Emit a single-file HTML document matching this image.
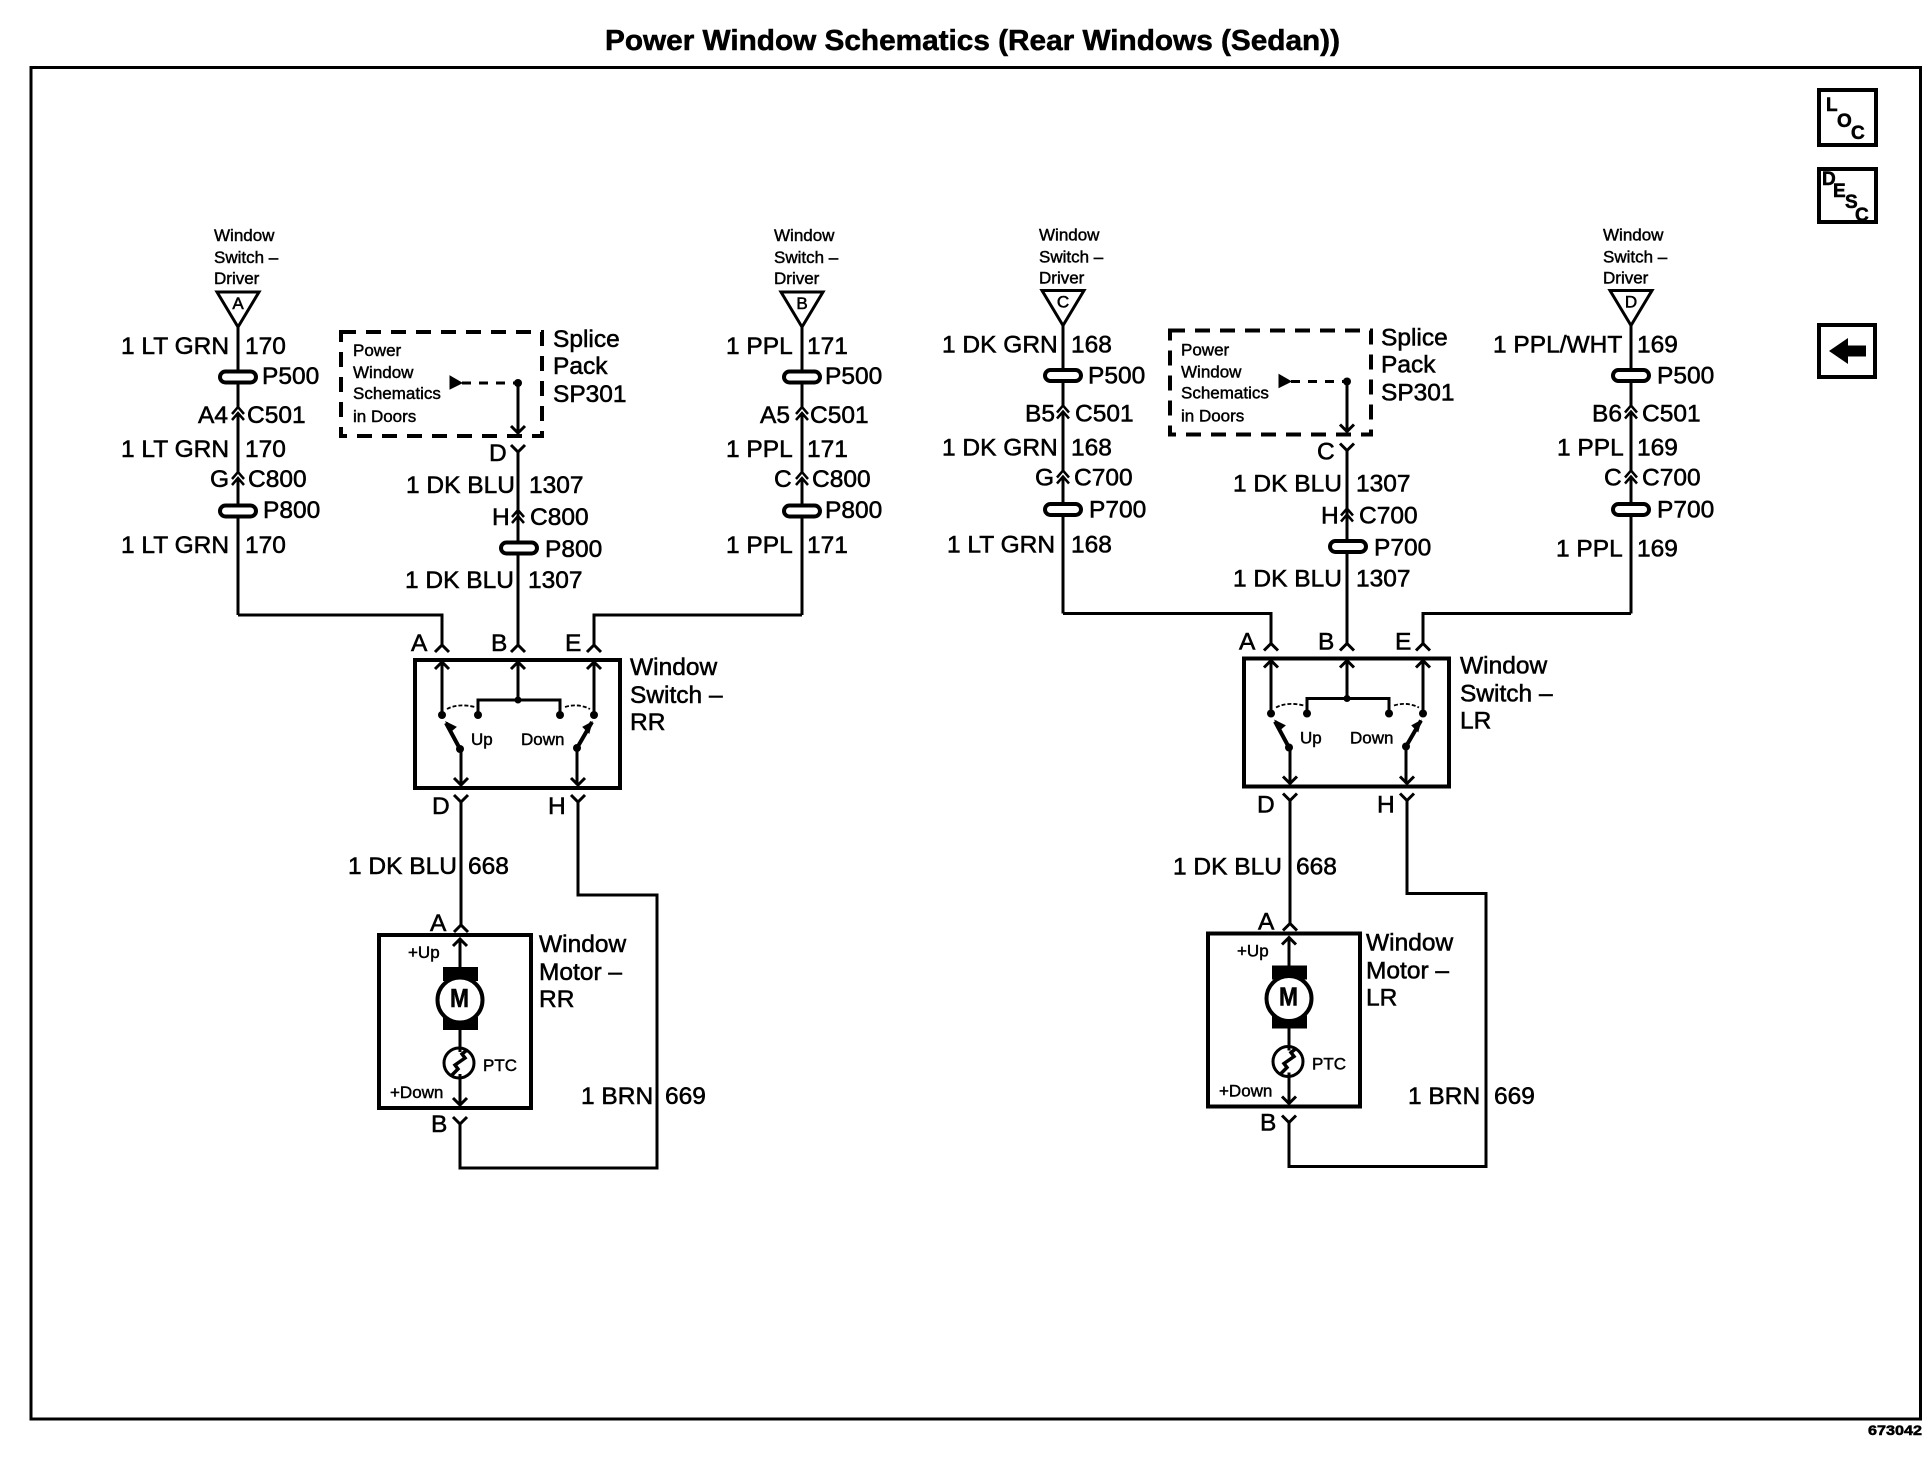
<!DOCTYPE html>
<html><head><meta charset="utf-8"><style>
html,body{margin:0;padding:0;background:#fff}
svg{display:block}
text{font-family:"Liberation Sans",Arial,sans-serif;fill:#000;stroke:#000;stroke-width:.55px}
.l{font-size:24.5px}
.t{font-size:17px;stroke-width:.45px}
</style></head><body>
<svg width="1932" height="1472" viewBox="0 0 1932 1472" xmlns="http://www.w3.org/2000/svg">
<defs>
<g id="p"><rect x="-18" y="-5.500" width="36" height="11" rx="5.500" fill="#fff" stroke="#000" stroke-width="4"/></g>
<path id="dc" d="M-6,7L0,0L6,7M-6,13L0,6L6,13" fill="none" stroke="#000" stroke-width="2.500"/>
<path id="up" d="M-7,7L0,0L7,7" fill="none" stroke="#000" stroke-width="3"/>
<path id="dn" d="M-7,-7L0,0L7,-7" fill="none" stroke="#000" stroke-width="3"/>
<path id="y" d="M-7,0L0,7L7,0" fill="none" stroke="#000" stroke-width="3"/>

<g id="sw">
 <g fill="none" stroke="#000" stroke-width="3">
  <path d="M518,452V645"/>
  <path d="M442,662V715M518,662V700M478,715V700H560V715M594,662V715"/>
  <path d="M461,749V785M577,748V785"/>
  <path d="M461,802V925M578,802V895H657V1168H460V1124"/>
  <path d="M460,939V967M460,1030V1047M460,1079V1105"/>
 </g>
 <path d="M446,723L460,749M592,722L577,748" fill="none" stroke="#000" stroke-width="4"/>
 <rect x="415" y="660" width="205" height="128" fill="none" stroke="#000" stroke-width="4"/>
 <rect x="379" y="935" width="152" height="173" fill="none" stroke="#000" stroke-width="4"/>
 <use href="#up" x="442" y="645"/><use href="#up" x="518" y="645"/><use href="#up" x="594" y="645"/>
 <use href="#up" x="442" y="662"/><use href="#up" x="518" y="662"/><use href="#up" x="594" y="662"/>
 <use href="#dn" x="461" y="785"/><use href="#dn" x="578" y="785"/>
 <use href="#y" x="461" y="795"/><use href="#y" x="578" y="795"/>
 <use href="#up" x="461" y="925"/><use href="#up" x="460" y="939"/>
 <use href="#dn" x="460" y="1105"/><use href="#y" x="460" y="1117"/>
 <g fill="#000"><circle cx="442" cy="715" r="4"/><circle cx="478" cy="715" r="4"/><circle cx="560" cy="715" r="4"/><circle cx="594" cy="715" r="4"/><circle cx="518" cy="700" r="3.500"/><circle cx="460" cy="749" r="4"/><circle cx="577" cy="748" r="4"/></g>
 <path d="M446,722L450,732L456,727Z M592,722L583,727L589,733Z" fill="#000" stroke="#000"/>
 <path d="M447,709Q458,703 475,707M565,707Q578,703 590,709" fill="none" stroke="#000" stroke-width="1.800" stroke-dasharray="4 2"/>
 <rect x="443" y="967" width="35" height="14" fill="#000"/><rect x="443" y="1017" width="35" height="13" fill="#000"/>
 <circle cx="460" cy="1000" r="22.500" fill="#fff" stroke="#000" stroke-width="4"/>
 <circle cx="459" cy="1063" r="15" fill="#fff" stroke="#000" stroke-width="3"/>
 <path d="M451,1076L458,1069L455,1065L465,1058L462,1054L467,1050" fill="none" stroke="#000" stroke-width="3.500"/>
 <path d="M460,1047V1052M460,1074V1079" stroke="#000" stroke-width="3"/>
 <rect x="341" y="332" width="201" height="104" fill="none" stroke="#000" stroke-width="4" stroke-dasharray="15 10"/>
 <path d="M450,376L462,383L450,389Z" fill="#000" stroke="#000"/>
 <path d="M462,383H518" stroke="#000" stroke-width="3" stroke-dasharray="9 8" fill="none"/>
 <circle cx="518" cy="383" r="4" fill="#000"/>
 <path d="M518,383V433" stroke="#000" stroke-width="3"/>
 <use href="#dn" x="518" y="433"/><use href="#y" x="518" y="445"/>
 <path d="M518,452V510M518,517V543" stroke="#000" stroke-width="3"/>
 <use href="#dc" x="518" y="510"/><use href="#p" x="519" y="548"/>
</g>
<g id="drop">
 <path d="M217,292H259L238,327Z" fill="#fff" stroke="#000" stroke-width="3"/>
 <path d="M238,327V407M238,413V472M238,478V615" fill="none" stroke="#000" stroke-width="3"/>
 <use href="#p" x="238" y="377"/><use href="#p" x="238" y="511"/>
 <use href="#dc" x="238" y="407"/><use href="#dc" x="238" y="472"/>
</g>
</defs>

<!-- frame -->
<rect x="31" y="67.500" width="1889.500" height="1351.500" fill="none" stroke="#000" stroke-width="3"/>
<text x="605" y="50" font-size="29" font-weight="700" textLength="735" lengthAdjust="spacingAndGlyphs">Power Window Schematics (Rear Windows (Sedan))</text>
<text x="1868" y="1435" font-size="14" font-weight="700" textLength="54" lengthAdjust="spacingAndGlyphs">673042</text>

<!-- side icons -->
<g fill="none" stroke="#000" stroke-width="4"><rect x="1819" y="90" width="57" height="55"/><rect x="1819" y="169" width="57" height="53"/><rect x="1819" y="325" width="56" height="52"/></g>
<g font-size="19" font-weight="700">
<text x="1826" y="111">L</text><text x="1837" y="127">O</text><text x="1851" y="139">C</text>
<text x="1822" y="185">D</text><text x="1833" y="197">E</text><text x="1845" y="208">S</text><text x="1855" y="221">C</text>
</g>
<path d="M1829,351L1848,338V345.500H1866V356.500H1848V364Z" fill="#000"/>

<!-- LEFT DIAGRAM -->
<use href="#sw"/>
<use href="#drop"/>
<use href="#drop" transform="translate(564,0)"/>
<path d="M238,615H442V645M802,615H594V645" fill="none" stroke="#000" stroke-width="3"/>

<!-- RIGHT DIAGRAM -->
<use href="#sw" transform="translate(829,-1.500)"/>
<use href="#drop" transform="translate(825,-1.500)"/>
<use href="#drop" transform="translate(1393,-1.500)"/>
<path d="M1063,613.500H1271V643.500M1631,613.500H1423V643.500" fill="none" stroke="#000" stroke-width="3"/>

<!-- left small labels -->
<g font-size="17" text-anchor="middle"><text x="238" y="309">A</text><text x="802" y="309">B</text></g>
<text class="t" x="214" y="241">Window</text><text class="t" x="214" y="263">Switch –</text><text class="t" x="214" y="284">Driver</text>
<text class="t" x="774" y="241">Window</text><text class="t" x="774" y="263">Switch –</text><text class="t" x="774" y="284">Driver</text>
<text class="t" x="353" y="356">Power</text><text class="t" x="353" y="378">Window</text><text class="t" x="353" y="399">Schematics</text><text class="t" x="353" y="422">in Doors</text>
<text class="t" x="471" y="745">Up</text><text class="t" x="521" y="745">Down</text>
<text class="t" x="408" y="958">+Up</text><text class="t" x="390" y="1098">+Down</text><text class="t" x="483" y="1071">PTC</text>

<!-- col 1 -->
<text class="l" x="121" y="354">1 LT GRN</text><text class="l" x="245" y="354">170</text>
<text class="l" x="262" y="384">P500</text>
<text class="l" x="198" y="423">A4</text><text class="l" x="247" y="423">C501</text>
<text class="l" x="121" y="457">1 LT GRN</text><text class="l" x="245" y="457">170</text>
<text class="l" x="210" y="487">G</text><text class="l" x="248" y="487">C800</text>
<text class="l" x="263" y="518">P800</text>
<text class="l" x="121" y="553">1 LT GRN</text><text class="l" x="245" y="553">170</text>
<!-- splice -->
<text class="l" x="553" y="347">Splice</text><text class="l" x="553" y="374">Pack</text><text class="l" x="553" y="402">SP301</text>
<text class="l" x="489" y="461">D</text>
<text class="l" x="406" y="493">1 DK BLU</text><text class="l" x="529" y="493">1307</text>
<text class="l" x="492" y="525">H</text><text class="l" x="530" y="525">C800</text>
<text class="l" x="545" y="557">P800</text>
<text class="l" x="405" y="588">1 DK BLU</text><text class="l" x="528" y="588">1307</text>
<!-- col 2 -->
<text class="l" x="726" y="354">1 PPL</text><text class="l" x="807" y="354">171</text>
<text class="l" x="825" y="384">P500</text>
<text class="l" x="760" y="423">A5</text><text class="l" x="810" y="423">C501</text>
<text class="l" x="726" y="457">1 PPL</text><text class="l" x="807" y="457">171</text>
<text class="l" x="774" y="487">C</text><text class="l" x="812" y="487">C800</text>
<text class="l" x="825" y="518">P800</text>
<text class="l" x="726" y="553">1 PPL</text><text class="l" x="807" y="553">171</text>
<!-- switch labels -->
<text class="l" x="411" y="651">A</text><text class="l" x="491" y="651">B</text><text class="l" x="565" y="651">E</text>
<text class="l" x="630" y="675">Window</text><text class="l" x="630" y="703">Switch –</text><text class="l" x="630" y="730">RR</text>
<text class="l" x="432" y="814">D</text><text class="l" x="548" y="814">H</text>
<text class="l" x="348" y="874">1 DK BLU</text><text class="l" x="468" y="874">668</text>
<text class="l" x="430" y="931">A</text>
<text class="l" x="539" y="952">Window</text><text class="l" x="539" y="980">Motor –</text><text class="l" x="539" y="1007">RR</text>
<text x="450" y="1007" font-size="26" font-weight="700" textLength="19" lengthAdjust="spacingAndGlyphs">M</text>
<text class="l" x="431" y="1132">B</text>
<text class="l" x="581" y="1104">1 BRN</text><text class="l" x="665" y="1104">669</text>

<!-- right-hand text -->
<g transform="translate(0,1.500)">
<g font-size="17" text-anchor="middle"><text x="1063" y="306">C</text><text x="1631" y="306">D</text></g>
<text class="t" x="1039" y="239">Window</text><text class="t" x="1039" y="261">Switch –</text><text class="t" x="1039" y="282">Driver</text>
<text class="t" x="1603" y="239">Window</text><text class="t" x="1603" y="261">Switch –</text><text class="t" x="1603" y="282">Driver</text>
<text class="t" x="1181" y="354">Power</text><text class="t" x="1181" y="376">Window</text><text class="t" x="1181" y="397">Schematics</text><text class="t" x="1181" y="420">in Doors</text>
<text class="t" x="1300" y="742">Up</text><text class="t" x="1350" y="742">Down</text>
<text class="t" x="1237" y="955">+Up</text><text class="t" x="1219" y="1095">+Down</text><text class="t" x="1312" y="1068">PTC</text>
<!-- col 3 -->
<text class="l" x="942" y="351">1 DK GRN</text><text class="l" x="1071" y="351">168</text>
<text class="l" x="1088" y="382">P500</text>
<text class="l" x="1025" y="420">B5</text><text class="l" x="1075" y="420">C501</text>
<text class="l" x="942" y="454">1 DK GRN</text><text class="l" x="1071" y="454">168</text>
<text class="l" x="1035" y="484">G</text><text class="l" x="1074" y="484">C700</text>
<text class="l" x="1089" y="516">P700</text>
<text class="l" x="947" y="551">1 LT GRN</text><text class="l" x="1071" y="551">168</text>
<!-- splice 2 -->
<text class="l" x="1381" y="344">Splice</text><text class="l" x="1381" y="371">Pack</text><text class="l" x="1381" y="399">SP301</text>
<text class="l" x="1317" y="458">C</text>
<text class="l" x="1233" y="490">1 DK BLU</text><text class="l" x="1356" y="490">1307</text>
<text class="l" x="1321" y="522">H</text><text class="l" x="1359" y="522">C700</text>
<text class="l" x="1374" y="554">P700</text>
<text class="l" x="1233" y="585">1 DK BLU</text><text class="l" x="1356" y="585">1307</text>
<!-- col 4 -->
<text class="l" x="1493" y="351">1 PPL/WHT</text><text class="l" x="1637" y="351">169</text>
<text class="l" x="1657" y="382">P500</text>
<text class="l" x="1592" y="420">B6</text><text class="l" x="1642" y="420">C501</text>
<text class="l" x="1557" y="454">1 PPL</text><text class="l" x="1637" y="454">169</text>
<text class="l" x="1604" y="484">C</text><text class="l" x="1642" y="484">C700</text>
<text class="l" x="1657" y="516">P700</text>
<text class="l" x="1556" y="555">1 PPL</text><text class="l" x="1637" y="555">169</text>
<!-- switch 2 labels -->
<text class="l" x="1239" y="648">A</text><text class="l" x="1318" y="648">B</text><text class="l" x="1395" y="648">E</text>
<text class="l" x="1460" y="672">Window</text><text class="l" x="1460" y="700">Switch –</text><text class="l" x="1460" y="727">LR</text>
<text class="l" x="1257" y="811">D</text><text class="l" x="1377" y="811">H</text>
<text class="l" x="1173" y="873">1 DK BLU</text><text class="l" x="1296" y="873">668</text>
<text class="l" x="1258" y="928">A</text>
<text class="l" x="1366" y="949">Window</text><text class="l" x="1366" y="977">Motor –</text><text class="l" x="1366" y="1004">LR</text>
<text x="1279" y="1004" font-size="26" font-weight="700" textLength="19" lengthAdjust="spacingAndGlyphs">M</text>
<text class="l" x="1260" y="1129">B</text>
<text class="l" x="1408" y="1102.500">1 BRN</text><text class="l" x="1494" y="1102.500">669</text>
</g>
</svg>
</body></html>
